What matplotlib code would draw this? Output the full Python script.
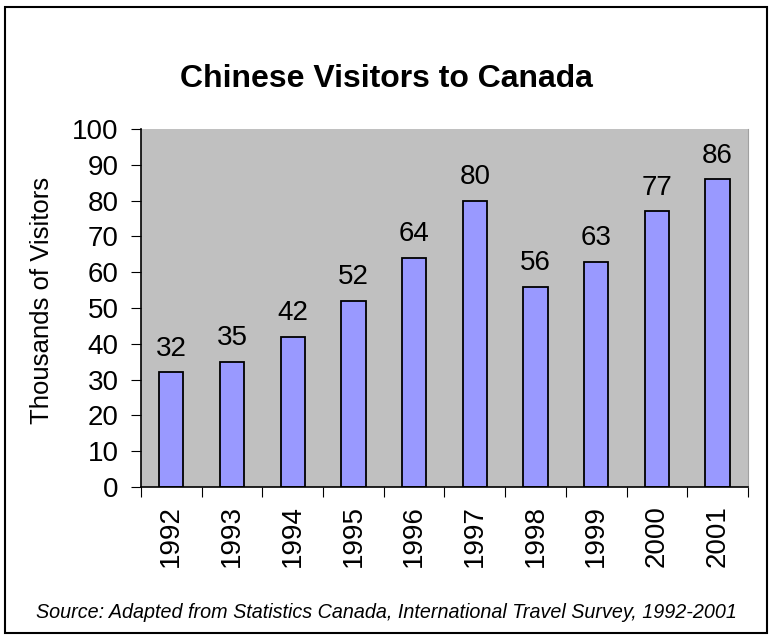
import matplotlib
matplotlib.use("Agg")
import matplotlib.pyplot as plt
from matplotlib.patches import Rectangle

# data
years = ["1992", "1993", "1994", "1995", "1996", "1997", "1998", "1999", "2000", "2001"]
visitors = [32, 35, 42, 52, 64, 80, 56, 63, 77, 86]

plt.rcParams["font.family"] = ["Liberation Sans", "DejaVu Sans"]

fig = plt.figure(figsize=(7.72, 6.39), dpi=100)

# outer border of the chart
fig.patches.append(Rectangle((0.006, 0.01), 0.988, 0.979, transform=fig.transFigure,
                             fill=False, edgecolor="black", linewidth=1.5))

ax = fig.add_axes([0.1826, 0.2379, 0.7863, 0.560])
ax.set_facecolor("#C0C0C0")

x = list(range(len(years)))
ax.bar(x, visitors, width=0.4, color="#9999FF", edgecolor="black", linewidth=1.3)

# value labels
for xi, v in zip(x, visitors):
    ax.annotate(str(v), (xi, v), xytext=(0, 12), textcoords="offset points",
                ha="center", va="baseline", fontsize=20)

ax.set_xlim(-0.5, len(years) - 0.5)
ax.set_ylim(0, 100)
ax.set_yticks(range(0, 101, 10))
ax.tick_params(axis="y", labelsize=20, length=7, direction="out", pad=9)

# x ticks between categories, labels at centers
ax.set_xticks([i - 0.5 for i in range(len(years) + 1)])
ax.set_xticklabels([])
ax.set_xticks(x, minor=True)
ax.set_xticklabels(years, minor=True, rotation=90, fontsize=20)
ax.tick_params(axis="x", which="major", length=7, direction="out")
ax.tick_params(axis="x", which="minor", length=0, pad=13)

ax.spines["top"].set_visible(False)
ax.spines["right"].set_color("#A0A0A0")
ax.spines["left"].set_linewidth(1.2)
ax.spines["bottom"].set_linewidth(1.2)

ax.set_ylabel("Thousands of Visitors", fontsize=18.5)
ax.yaxis.set_label_coords(-0.143, 0.52)

fig.text(0.5, 0.8638, "Chinese Visitors to Canada", ha="center", va="baseline",
         fontsize=23, fontweight="bold")
fig.text(0.5, 0.0329, "Source: Adapted from Statistics Canada, International Travel Survey, 1992-2001",
         ha="center", va="baseline", fontsize=14.2, style="italic")

fig.savefig("out.png", dpi=100)
